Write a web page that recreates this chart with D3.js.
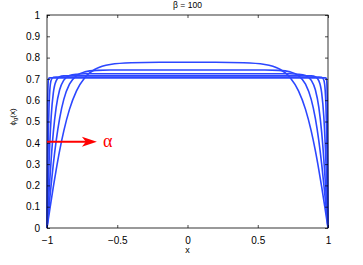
<!DOCTYPE html>
<html>
<head>
<meta charset="utf-8">
<script src="https://cdn.jsdelivr.net/npm/d3@7"></script>
<style>
  body { margin: 0; background: #fff; }
  svg { display: block; font-family: "Liberation Sans", Arial, sans-serif; }
</style>
</head>
<body>
<svg id="chart" width="363" height="265"></svg>
<script>
// x grid (shared by all curves)
const X_VALUES = [-1, -0.998, -0.995, -0.99, -0.985, -0.98, -0.97, -0.955, -0.935, -0.91, -0.88, -0.84, -0.79, -0.73, -0.65, -0.55, -0.4, -0.2, 0,
    0.2, 0.4, 0.55, 0.65, 0.73, 0.79, 0.84, 0.88, 0.91, 0.935, 0.955, 0.97, 0.98, 0.985, 0.99, 0.995, 0.998, 1];

// phi_g(x), one array per curve
const CURVE_1 = [0, 0.009, 0.022, 0.044, 0.065, 0.087, 0.130, 0.193, 0.272, 0.363, 0.457, 0.557, 0.644, 0.707, 0.748, 0.768, 0.776, 0.778, 0.778,
    0.778, 0.776, 0.768, 0.748, 0.707, 0.644, 0.557, 0.457, 0.363, 0.272, 0.193, 0.130, 0.087, 0.065, 0.044, 0.022, 0.009, 0];
const CURVE_2 = [0, 0.014, 0.035, 0.070, 0.105, 0.140, 0.206, 0.300, 0.408, 0.515, 0.605, 0.675, 0.715, 0.733, 0.740, 0.742, 0.742, 0.742, 0.742,
    0.742, 0.742, 0.742, 0.740, 0.733, 0.715, 0.675, 0.605, 0.515, 0.408, 0.300, 0.206, 0.140, 0.105, 0.070, 0.035, 0.014, 0];
const CURVE_3 = [0, 0.023, 0.058, 0.116, 0.172, 0.226, 0.325, 0.449, 0.565, 0.649, 0.694, 0.716, 0.722, 0.724, 0.724, 0.724, 0.724, 0.724, 0.724,
    0.724, 0.724, 0.724, 0.724, 0.724, 0.722, 0.716, 0.694, 0.649, 0.565, 0.449, 0.325, 0.226, 0.172, 0.116, 0.058, 0.023, 0];
const CURVE_4 = [0, 0.045, 0.111, 0.217, 0.313, 0.397, 0.525, 0.634, 0.691, 0.710, 0.714, 0.715, 0.715, 0.715, 0.715, 0.715, 0.715, 0.715, 0.715,
    0.715, 0.715, 0.715, 0.715, 0.715, 0.715, 0.715, 0.714, 0.710, 0.691, 0.634, 0.525, 0.397, 0.313, 0.217, 0.111, 0.045, 0];
const CURVE_5 = [0, 0.108, 0.260, 0.458, 0.581, 0.646, 0.695, 0.708, 0.709, 0.709, 0.709, 0.709, 0.709, 0.709, 0.709, 0.709, 0.709, 0.709, 0.709,
    0.709, 0.709, 0.709, 0.709, 0.709, 0.709, 0.709, 0.709, 0.709, 0.709, 0.708, 0.695, 0.646, 0.581, 0.458, 0.260, 0.108, 0];
const CURVE_6 = [0, 0.326, 0.598, 0.696, 0.704, 0.705, 0.705, 0.705, 0.705, 0.705, 0.705, 0.705, 0.705, 0.705, 0.705, 0.705, 0.705, 0.705, 0.705,
    0.705, 0.705, 0.705, 0.705, 0.705, 0.705, 0.705, 0.705, 0.705, 0.705, 0.705, 0.705, 0.705, 0.704, 0.696, 0.598, 0.326, 0];
const CURVES = [CURVE_1, CURVE_2, CURVE_3, CURVE_4, CURVE_5, CURVE_6];

const X_TICKS = [-1, -0.5, 0, 0.5, 1];
const X_TICK_LABELS = ["\u22121", "\u22120.5", "0", "0.5", "1"];
const Y_TICKS = [0, 0.1, 0.2, 0.3, 0.4, 0.5, 0.6, 0.7, 0.8, 0.9, 1];
const Y_TICK_LABELS = ["0", "0.1", "0.2", "0.3", "0.4", "0.5", "0.6", "0.7", "0.8", "0.9", "1"];

const TITLE = "\u03b2 = 100";
const ARROW_FROM = [-1, 0.405];
const ARROW_TO = [-0.645, 0.405];
const ARROW_LABEL = "\u03b1";

const svg = d3.select("#chart");
const paddings = { top: 15, right: 35, bottom: 37, left: 47 };
const chartWidth = +svg.attr("width") - paddings.left - paddings.right;
const chartHeight = +svg.attr("height") - paddings.top - paddings.bottom;

const chart = svg.append("g")
    .attr("transform", `translate(${paddings.left},${paddings.top})`);

const xScale = d3.scaleLinear().domain([-1, 1]).range([0, chartWidth]);
const yScale = d3.scaleLinear().domain([0, 1]).range([chartHeight, 0]);

// curves
const line = d3.line()
    .x((d) => xScale(d[0]))
    .y((d) => yScale(d[1]))
    .curve(d3.curveMonotoneX);

chart.selectAll("path.curve")
    .data(CURVES)
    .enter()
    .append("path")
    .attr("class", "curve")
    .attr("d", (ys) => line(ys.map((y, i) => [X_VALUES[i], y])))
    .attr("fill", "none")
    .attr("stroke", "#2c47ff")
    .attr("stroke-width", 1.6);

// axes, MATLAB style: ticks inside, full box
const tickStyle = (g) => {
    g.select(".domain").remove();
    g.selectAll("line").attr("stroke", "#000").attr("stroke-width", 0.7);
    g.selectAll("text").attr("fill", "#000").style("font-size", "10px");
};

chart.append("g")
    .attr("transform", `translate(0,${chartHeight})`)
    .call(d3.axisBottom(xScale).tickValues(X_TICKS)
        .tickFormat((d, i) => X_TICK_LABELS[i]).tickSizeInner(-3).tickPadding(9))
    .call(tickStyle);
chart.append("g")
    .call(d3.axisTop(xScale).tickValues(X_TICKS).tickFormat("").tickSizeInner(-3))
    .call(tickStyle);
chart.append("g")
    .call(d3.axisLeft(yScale).tickValues(Y_TICKS)
        .tickFormat((d, i) => Y_TICK_LABELS[i]).tickSizeInner(-3).tickPadding(7))
    .call(tickStyle);
chart.append("g")
    .attr("transform", `translate(${chartWidth},0)`)
    .call(d3.axisRight(yScale).tickValues(Y_TICKS).tickFormat("").tickSizeInner(-3))
    .call(tickStyle);

chart.append("rect")
    .attr("width", chartWidth)
    .attr("height", chartHeight)
    .attr("fill", "none")
    .attr("stroke", "#000")
    .attr("stroke-width", 0.8);

// arrow + alpha
const ax0 = xScale(ARROW_FROM[0]), ay = yScale(ARROW_FROM[1]);
const ax1 = xScale(ARROW_TO[0]);
chart.append("line")
    .attr("x1", ax0).attr("y1", ay)
    .attr("x2", ax1 - 10).attr("y2", ay)
    .attr("stroke", "#ff0000")
    .attr("stroke-width", 2);
chart.append("path")
    .attr("d", `M${ax1},${ay} L${ax1 - 15},${ay - 5} L${ax1 - 11},${ay} L${ax1 - 15},${ay + 5} Z`)
    .attr("fill", "#ff0000");
chart.append("text")
    .attr("x", ax1 + 6)
    .attr("y", ay + 5)
    .attr("fill", "#ff0000")
    .style("font-family", "'Liberation Serif', serif")
    .style("font-size", "18px")
    .text(ARROW_LABEL);

// labels
svg.append("text")
    .attr("x", paddings.left + chartWidth / 2)
    .attr("y", 8)
    .attr("text-anchor", "middle")
    .style("font-size", "8.5px")
    .text(TITLE);

svg.append("text")
    .attr("x", paddings.left + chartWidth / 2)
    .attr("y", 253)
    .attr("text-anchor", "middle")
    .style("font-size", "9px")
    .text("x");

const yLabel = svg.append("text")
    .attr("transform", `translate(15,117) rotate(-90)`)
    .attr("text-anchor", "middle")
    .style("font-size", "8px");
yLabel.append("tspan").text("\u03d5");
yLabel.append("tspan").attr("dy", 2).style("font-size", "6px").text("g");
yLabel.append("tspan").attr("dy", -2).text("(x)");
</script>
</body>
</html>
